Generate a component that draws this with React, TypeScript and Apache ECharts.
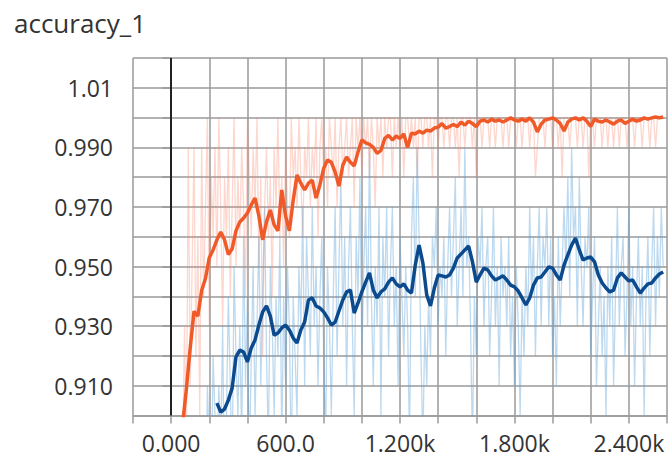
import React, { useEffect, useRef } from "react";
import * as echarts from "echarts";

const RAW_STEP = 10;
const SMOOTH_STEP = 20;
const xTickLabels: Record<number, string> = { 0: "0.000", 600: "600.0", 1200: "1.200k", 1800: "1.800k", 2400: "2.400k" };
const yTickLabels: Record<number, string> = { 910: "0.910", 930: "0.930", 950: "0.950", 970: "0.970", 990: "0.990", 1010: "1.01" };

// raw (faint) orange series, steps 20..2580 every 10
const orangeRawStart = 20;
const orangeRaw = [
  0.84, 0.87, 0.86, 0.90, 0.88, 0.93, 0.89, 0.99, 0.91, 0.95,
  0.99, 0.92, 0.96, 0.90, 0.99, 0.94, 0.97, 1.00, 0.93, 0.98,
  0.96, 0.99, 0.95, 1.00, 0.97, 0.93, 0.98, 0.96, 0.99, 0.94,
  0.97, 1.00, 0.95, 0.98, 0.96, 0.99, 0.97, 0.94, 1.00, 0.98,
  0.96, 0.99, 0.97, 1.00, 0.95, 0.98, 0.92, 0.97, 0.99, 0.96,
  0.98, 0.94, 0.99, 0.97, 1.00, 0.96, 0.98, 0.95, 0.99, 0.97,
  0.96, 1.00, 0.98, 0.99, 0.97, 1.00, 0.98, 0.96, 0.99, 0.98,
  1.00, 0.97, 0.99, 0.98, 1.00, 0.96, 0.99, 1.00, 0.98, 0.99,
  0.97, 1.00, 0.99, 0.98, 1.00, 0.97, 0.99, 1.00, 0.98, 0.99,
  1.00, 0.98, 0.99, 1.00, 0.97, 1.00, 0.99, 1.00, 0.98, 1.00,
  0.99, 1.00, 0.98, 1.00, 0.99, 0.97, 1.00, 0.99, 1.00, 0.98,
  1.00, 0.99, 1.00, 1.00, 0.98, 1.00, 0.99, 1.00, 0.99, 1.00,
  0.98, 1.00, 1.00, 0.99, 1.00, 0.99, 1.00, 0.98, 1.00, 1.00,
  0.99, 1.00, 1.00, 0.99, 1.00, 0.98, 1.00, 1.00, 0.99, 1.00,
  1.00, 0.99, 1.00, 1.00, 0.99, 1.00, 1.00, 0.99, 1.00, 0.98,
  1.00, 1.00, 0.99, 1.00, 1.00, 1.00, 0.99, 1.00, 0.98, 1.00,
  1.00, 0.99, 1.00, 1.00, 1.00, 0.99, 1.00, 1.00, 0.99, 1.00,
  1.00, 1.00, 0.99, 1.00, 1.00, 0.99, 1.00, 1.00, 1.00, 0.99,
  1.00, 1.00, 0.99, 1.00, 1.00, 1.00, 0.99, 1.00, 1.00, 0.98,
  0.99, 1.00, 1.00, 1.00, 0.99, 1.00, 1.00, 1.00, 0.99, 1.00,
  1.00, 0.99, 1.00, 0.98, 1.00, 1.00, 1.00, 0.99, 1.00, 1.00,
  1.00, 0.99, 1.00, 1.00, 0.99, 1.00, 1.00, 0.98, 1.00, 1.00,
  0.99, 1.00, 1.00, 1.00, 0.99, 1.00, 1.00, 0.99, 1.00, 1.00,
  0.99, 1.00, 1.00, 0.99, 1.00, 1.00, 1.00, 0.99, 1.00, 1.00,
  1.00, 0.99, 1.00, 1.00, 1.00, 0.99, 1.00, 1.00, 1.00, 0.99,
  1.00, 1.00, 0.99, 1.00, 1.00, 1.00, 1.00,
];

// raw (faint) blue series, steps 160..2580 every 10
const blueRawStart = 160;
const blueRaw = [
  0.88, 0.90, 0.86, 0.91, 0.89, 0.87, 0.92, 0.90, 0.88, 0.91,
  0.89, 0.93, 0.87, 0.90, 0.94, 0.91, 0.88, 0.95, 0.92, 0.90,
  0.93, 0.89, 0.96, 0.91, 0.94, 0.88, 0.92, 0.95, 0.90, 0.93,
  0.96, 0.91, 0.94, 0.97, 0.92, 0.89, 0.95, 0.93, 0.90, 0.94,
  0.92, 0.96, 0.89, 0.94, 0.91, 0.95, 0.93, 0.88, 0.94, 0.92,
  0.90, 0.95, 0.93, 0.97, 0.91, 0.96, 0.94, 0.92, 0.97, 0.93,
  0.95, 0.91, 0.94, 0.96, 0.92, 0.89, 0.95, 0.93, 0.90, 0.94,
  0.97, 0.92, 0.95, 0.98, 0.93, 0.96, 0.91, 0.95, 0.97, 0.93,
  0.90, 0.96, 0.94, 0.98, 0.92, 0.95, 0.97, 0.93, 0.99, 0.94,
  0.91, 0.95, 0.93, 0.97, 0.90, 0.96, 0.94, 0.97, 0.92, 0.95,
  0.97, 0.93, 0.95, 0.91, 0.96, 0.94, 0.92, 0.95, 0.93, 0.89,
  0.96, 0.98, 0.94, 0.99, 0.96, 0.92, 0.89, 0.93, 0.91, 0.94,
  0.92, 0.96, 0.95, 0.97, 0.93, 0.95, 0.94, 0.96, 0.92, 0.95,
  0.97, 0.94, 0.96, 0.98, 0.93, 0.95, 0.97, 0.94, 0.99, 0.95,
  0.96, 0.93, 0.89, 0.94, 0.92, 0.96, 0.95, 0.97, 0.93, 0.95,
  0.96, 0.92, 0.94, 0.97, 0.93, 0.95, 0.91, 0.96, 0.94, 0.95,
  0.93, 0.96, 0.92, 0.94, 0.91, 0.95, 0.93, 0.90, 0.94, 0.92,
  0.95, 0.93, 0.97, 0.94, 0.96, 0.92, 0.95, 0.97, 0.93, 0.96,
  0.95, 0.97, 0.93, 0.96, 0.92, 0.94, 0.91, 0.96, 0.93, 0.95,
  0.97, 0.95, 0.98, 0.94, 0.99, 0.96, 0.97, 0.93, 0.98, 0.95,
  0.93, 0.96, 0.95, 0.97, 0.92, 0.94, 0.96, 0.91, 0.93, 0.95,
  0.92, 0.94, 0.90, 0.95, 0.93, 0.96, 0.91, 0.94, 0.97, 0.93,
  0.95, 0.96, 0.92, 0.94, 0.97, 0.93, 0.95, 0.91, 0.94, 0.96,
  0.93, 0.95, 0.90, 0.94, 0.96, 0.92, 0.95, 0.97, 0.93, 0.96,
  0.94, 0.97, 0.95,
];

// smoothed orange, steps 60..2580 every 20
const orangeSmoothStart = 60;
const orangeSmooth = [
  0.897, 0.909, 0.9227, 0.935, 0.9334, 0.942, 0.946, 0.953, 0.9556, 0.959,
  0.9616, 0.959, 0.954, 0.956, 0.962, 0.965, 0.9663, 0.968, 0.9707, 0.973,
  0.967, 0.959, 0.965, 0.969, 0.964, 0.962, 0.9757, 0.967, 0.962, 0.9723,
  0.9807, 0.978, 0.9757, 0.978, 0.979, 0.973, 0.9774, 0.983, 0.9858, 0.985,
  0.9817, 0.977, 0.984, 0.9868, 0.985, 0.9838, 0.9885, 0.9925, 0.9915, 0.991,
  0.990, 0.988, 0.989, 0.993, 0.994, 0.9925, 0.9938, 0.993, 0.9945, 0.990,
  0.9948, 0.9945, 0.9955, 0.9948, 0.9958, 0.9955, 0.9965, 0.9968, 0.998, 0.9965,
  0.997, 0.9977, 0.997, 0.9985, 0.9975, 0.9988, 0.998, 0.997, 0.9988, 0.9992,
  0.9985, 0.9995, 0.9988, 0.9992, 0.9985, 0.9992, 0.9999, 0.9992, 0.9988, 0.9995,
  0.9988, 0.9999, 0.9985, 0.9952, 0.9978, 0.9992, 0.9995, 0.9999, 0.9992, 0.998,
  0.9955, 0.9985, 0.9995, 0.9999, 0.9992, 0.9999, 0.9988, 0.997, 0.9995, 0.9988,
  0.9985, 0.9992, 0.9985, 0.9978, 0.9988, 0.9992, 0.998, 0.9988, 0.9995, 0.9988,
  0.9992, 0.9999, 0.9995, 0.9999, 1.0002, 0.9999, 1.0002,
];

// smoothed blue, steps 240..2580 every 20
const blueSmoothStart = 240;
const blueSmooth = [
  0.9042, 0.9012, 0.9022, 0.9052, 0.9093, 0.9197, 0.922, 0.9213, 0.918, 0.9227,
  0.9254, 0.9304, 0.9348, 0.9368, 0.9334, 0.927, 0.9277, 0.9294, 0.9304, 0.9287,
  0.926, 0.9244, 0.9287, 0.9314, 0.9388, 0.9395, 0.9368, 0.9361, 0.9348, 0.9328,
  0.9304, 0.9314, 0.9351, 0.9388, 0.9415, 0.9421, 0.9344, 0.9378, 0.9415, 0.9448,
  0.9479, 0.9421, 0.9395, 0.9415, 0.9425, 0.9448, 0.9462, 0.9442, 0.9432, 0.9442,
  0.9421, 0.9411, 0.9505, 0.9572, 0.9512, 0.9405, 0.9368, 0.9428, 0.9472, 0.9469,
  0.9465, 0.9472, 0.9495, 0.9529, 0.9542, 0.9556, 0.9569, 0.9516, 0.9448, 0.9472,
  0.9495, 0.9489, 0.9469, 0.9455, 0.9462, 0.9469, 0.9455, 0.9438, 0.9432, 0.9418,
  0.9395, 0.9371, 0.9395, 0.9438, 0.9462, 0.9465, 0.9482, 0.9499, 0.9495, 0.9472,
  0.9455, 0.9505, 0.9539, 0.9572, 0.9596, 0.9556, 0.9522, 0.9529, 0.9532, 0.9516,
  0.9472, 0.9445, 0.9428, 0.9415, 0.9421, 0.9462, 0.9479, 0.9465, 0.9452, 0.9455,
  0.9432, 0.9411, 0.9428, 0.9442, 0.9445, 0.9462, 0.9475, 0.9482,
];

const withSteps = (start: number, step: number, vals: number[]) =>
  vals.map((v, i) => [start + i * step, v]);

const FONT = "'Open Sans', 'Liberation Sans', Arial, sans-serif";

export default function App() {
  const ref = useRef<HTMLDivElement>(null);
  useEffect(() => {
    if (!ref.current) return;
    const chart = echarts.init(ref.current, undefined, { renderer: "svg" });
    const gridColor = "#9a9a9a";
    chart.setOption({
      animation: false,
      backgroundColor: "#ffffff",
      title: {
        text: "accuracy_1",
        left: 9,
        top: 5,
        textStyle: { fontFamily: FONT, fontSize: 26, fontWeight: "normal", color: "#333" },
      },
      grid: { left: 133, top: 58, width: 542.5, height: 357.6, containLabel: false },
      xAxis: {
        type: "value",
        min: -200,
        max: 2600,
        interval: 200,
        axisLine: { show: true, lineStyle: { color: gridColor, width: 1.5 } },
        axisTick: { show: true, length: 8, lineStyle: { color: gridColor, width: 1.5 } },
        splitLine: { show: true, lineStyle: { color: gridColor, width: 1.5 } },
        axisLabel: {
          margin: 16,
          fontFamily: FONT,
          fontSize: 23,
          color: "#333",
          showMinLabel: true,
          showMaxLabel: true,
          formatter: (v: number) => xTickLabels[Math.round(v)] ?? "",
        },
      },
      yAxis: {
        type: "value",
        min: 0.9,
        max: 1.02,
        interval: 0.01,
        axisLine: { show: true, lineStyle: { color: gridColor, width: 1.5 } },
        axisTick: { show: true, length: 9, lineStyle: { color: gridColor, width: 1.5 } },
        splitLine: { show: true, lineStyle: { color: gridColor, width: 1.5 } },
        axisLabel: {
          margin: 20,
          fontFamily: FONT,
          fontSize: 23,
          color: "#333",
          formatter: (v: number) => yTickLabels[Math.round(v * 1000)] ?? "",
        },
      },
      series: [
        {
          type: "line",
          data: withSteps(orangeRawStart, RAW_STEP, orangeRaw),
          showSymbol: false,
          symbol: "none",
          lineStyle: { color: "rgba(250,120,90,0.3)", width: 1.3 },
          markLine: {
            silent: true,
            symbol: "none",
            label: { show: false },
            lineStyle: { color: "#222", width: 2, type: "solid" },
            data: [{ xAxis: 0 }],
          },
          z: 1,
        },
        {
          type: "line",
          data: withSteps(blueRawStart, RAW_STEP, blueRaw),
          showSymbol: false,
          symbol: "none",
          lineStyle: { color: "rgba(90,160,215,0.4)", width: 1.3 },
          z: 2,
        },
        {
          type: "line",
          data: withSteps(orangeSmoothStart, SMOOTH_STEP, orangeSmooth),
          showSymbol: false,
          symbol: "none",
          lineStyle: { color: "#f05a28", width: 3.5 },
          z: 3,
        },
        {
          type: "line",
          data: withSteps(blueSmoothStart, SMOOTH_STEP, blueSmooth),
          showSymbol: false,
          symbol: "none",
          lineStyle: { color: "#0c4a8e", width: 3.5 },
          z: 4,
        },
      ],
    });
    return () => chart.dispose();
  }, []);
  return (
    <div
      ref={ref}
      style={{ position: "fixed", left: 0, top: 0, width: 670, height: 463, background: "#fff" }}
    />
  );
}
